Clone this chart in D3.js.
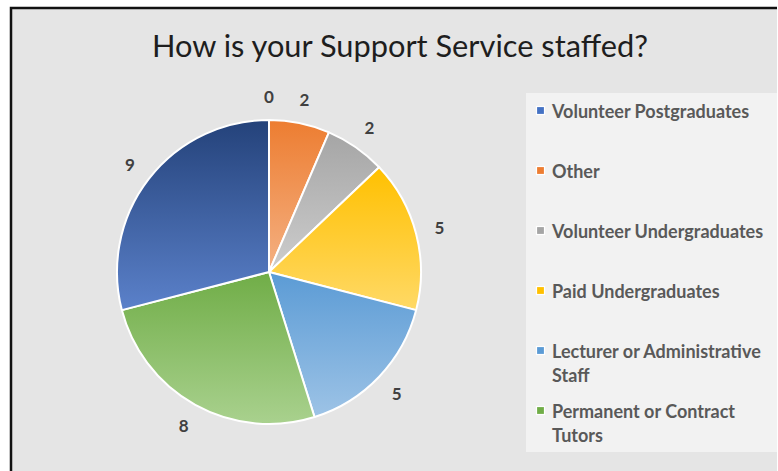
<!DOCTYPE html>
<html>
<head>
<meta charset="utf-8">
<script src="https://cdn.jsdelivr.net/npm/d3@7"></script>
<style>
  html, body { margin: 0; padding: 0; background: #ffffff; }
  svg { display: block; }
</style>
</head>
<body>
<svg id="chart" width="778" height="471"></svg>
<script>
// Survey answers, in the order they sit around the pie (clockwise from 12 o'clock)
const categories = [
  "Volunteer Postgraduates",
  "Other",
  "Volunteer Undergraduates",
  "Paid Undergraduates",
  "Lecturer or Administrative Staff",
  "Permanent or Contract Tutors",
  "Paid Postgraduates"
];
const counts = [0, 2, 2, 5, 5, 8, 9];
const title = "How is your Support Service staffed?";

// Legend lines (long names wrap onto a second line); the box holds six entries
const legendLines = [
  ["Volunteer Postgraduates"],
  ["Other"],
  ["Volunteer Undergraduates"],
  ["Paid Undergraduates"],
  ["Lecturer or Administrative", "Staff"],
  ["Permanent or Contract", "Tutors"]
];

// Fill of each slice: saturated at the top, lighter at the bottom
const topColors    = ["#4472C4", "#ED7D31", "#A5A5A5", "#FFC000", "#5B9BD5", "#70AD47", "#24427A"];
const bottomColors = ["#8FAADC", "#F4B183", "#CDCDCD", "#FFD966", "#9DC3E6", "#A9D18E", "#5B81CA"];

const svg = d3.select("#chart");
const W = 778, H = 471;
const FONT = "Lato, 'Open Sans', sans-serif";

// Chart area with its frame
svg.append("rect").attr("x", 11).attr("y", 8).attr("width", 766).attr("height", H - 8)
  .attr("fill", "#E5E5E5");
svg.append("path")
  .attr("d", `M11,${H} L11,8 L777,8`)
  .attr("fill", "none").attr("stroke", "#111").attr("stroke-width", 2.5);

// Title
svg.append("text")
  .attr("x", 400).attr("y", 57)
  .attr("text-anchor", "middle")
  .attr("font-family", FONT)
  .attr("font-size", 30.5)
  .attr("fill", "#1e1e1e")
  .attr("textLength", 496).attr("lengthAdjust", "spacingAndGlyphs")
  .text(title);

// Gradients
const defs = svg.append("defs");
categories.forEach((c, i) => {
  const g = defs.append("linearGradient")
    .attr("id", "grad" + i)
    .attr("x1", 0).attr("y1", 0).attr("x2", 0).attr("y2", 1);
  g.append("stop").attr("offset", "0%").attr("stop-color", topColors[i]);
  g.append("stop").attr("offset", "100%").attr("stop-color", bottomColors[i]);
});

// Pie
const cx = 269, cy = 272, r = 152;
const pie = d3.pie().sort(null).value(d => d.value);
const data = categories.map((c, i) => ({ name: c, value: counts[i], idx: i }));
const arcs = pie(data);
const arc = d3.arc().innerRadius(0).outerRadius(r);

const pieG = svg.append("g").attr("transform", `translate(${cx},${cy})`);
pieG.selectAll("path.slice")
  .data(arcs)
  .join("path")
  .attr("class", "slice")
  .attr("d", arc)
  .attr("fill", d => `url(#grad${d.data.idx})`)
  .attr("stroke", "#ffffff")
  .attr("stroke-width", 2)
  .attr("stroke-linejoin", "round");

// Value labels just outside each slice
const labelArc = d3.arc().innerRadius(r + 24).outerRadius(r + 24);
pieG.selectAll("text.val")
  .data(arcs)
  .join("text")
  .attr("class", "val")
  .attr("transform", d => `translate(${labelArc.centroid(d)})`)
  .attr("text-anchor", "middle")
  .attr("dominant-baseline", "central")
  .attr("font-family", FONT)
  .attr("font-weight", "bold")
  .attr("font-size", 17)
  .attr("fill", "#404040")
  .text(d => d.data.value);

// Legend
const legX = 526, legY = 93, legW = 251, legH = 359;
const legend = svg.append("g");
legend.append("rect").attr("x", legX).attr("y", legY).attr("width", legW).attr("height", legH)
  .attr("fill", "#F2F2F2");

const rowTop = 111, rowStep = 60, lineStep = 24;
legendLines.forEach((lines, i) => {
  const y = rowTop + i * rowStep;
  legend.append("rect")
    .attr("x", 536.5).attr("y", y - 4.5).attr("width", 8).attr("height", 8)
    .attr("fill", topColors[i]).attr("stroke", "#ffffff").attr("stroke-width", 1.2);
  lines.forEach((ln, j) => {
    legend.append("text")
      .attr("x", 552).attr("y", y + j * lineStep)
      .attr("dominant-baseline", "central")
      .attr("font-family", FONT)
      .attr("font-weight", "bold")
      .attr("font-size", 18)
      .attr("fill", "#595959")
      .text(ln);
  });
});
</script>
</body>
</html>
